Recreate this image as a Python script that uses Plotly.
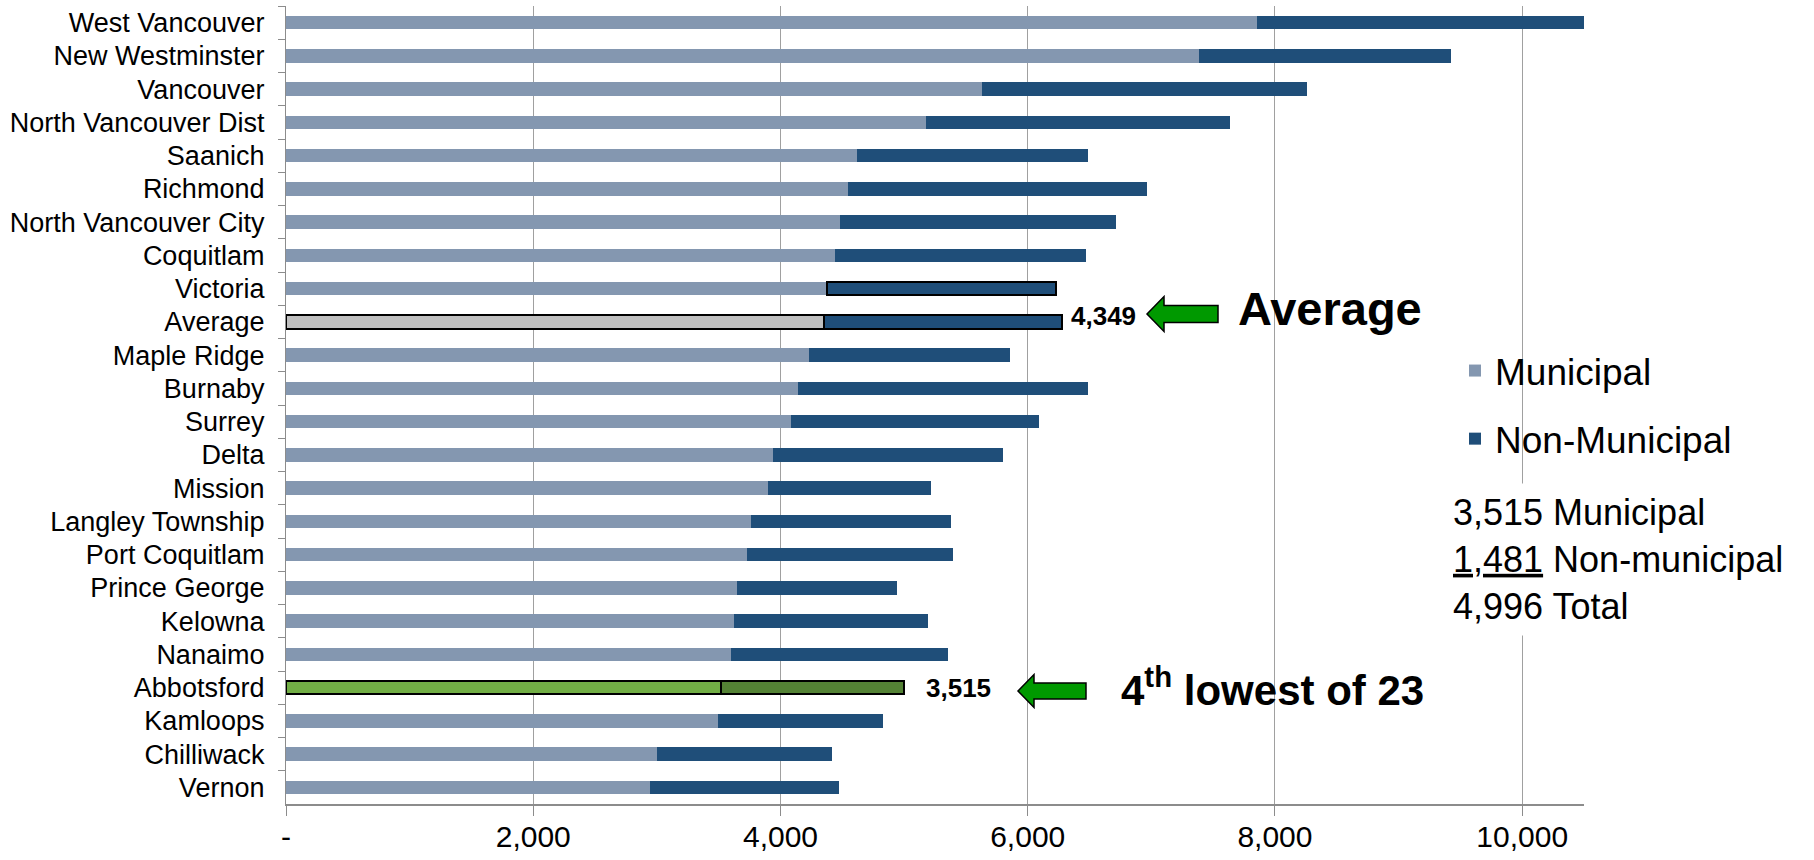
import plotly.graph_objects as go

# ---------------- data ----------------
cities = ["West Vancouver", "New Westminster", "Vancouver", "North Vancouver Dist",
          "Saanich", "Richmond", "North Vancouver City", "Coquitlam", "Victoria",
          "Average", "Maple Ridge", "Burnaby", "Surrey", "Delta", "Mission",
          "Langley Township", "Port Coquitlam", "Prince George", "Kelowna",
          "Nanaimo", "Abbotsford", "Kamloops", "Chilliwack", "Vernon"]
municipal = [7852, 7385, 5630, 5175, 4617, 4547, 4482, 4441, 4380, 4349, 4231,
             4145, 4086, 3940, 3900, 3762, 3730, 3649, 3625, 3601, 3515, 3496,
             3002, 2943]
non_municipal = [2658, 2036, 2630, 2464, 1873, 2415, 2235, 2031, 1849, 1931, 1628,
                 2345, 2005, 1856, 1315, 1618, 1666, 1297, 1566, 1757, 1481, 1334,
                 1413, 1534]
x_tick_vals = [0, 2000, 4000, 6000, 8000, 10000]
x_tick_text = ["-", "2,000", "4,000", "6,000", "8,000", "10,000"]
x_max = 10500

# ---------------- styles ----------------
FONT = "Liberation Sans, Arial, sans-serif"
C_MUNI = "#8497B0"
C_NON = "#1F4E79"
C_AVG_MUNI = "#BFBFBF"
C_ABB_MUNI = "#72AE45"
C_ABB_NON = "#548235"

W, H = 1814, 860
L, R, T, B = 286, 1584, 6, 804

def pxx(x):
    return (x - L) / (R - L)

def pxy(y):
    return (B - y) / (B - T)

muni_colors, non_colors, muni_lw, non_lw = [], [], [], []
for c in cities:
    mc, nc, ml, nl = C_MUNI, C_NON, 0, 0
    if c == "Victoria":
        nl = 2
    if c == "Average":
        mc, ml, nl = C_AVG_MUNI, 2, 2
    if c == "Abbotsford":
        mc, nc, ml, nl = C_ABB_MUNI, C_ABB_NON, 2, 2
    muni_colors.append(mc)
    non_colors.append(nc)
    muni_lw.append(ml)
    non_lw.append(nl)

fig = go.Figure()
fig.add_trace(go.Bar(
    y=cities, x=municipal, orientation="h", name="Municipal",
    legendgroup="a",
    marker=dict(color=muni_colors, line=dict(color="black", width=muni_lw)),
    hoverinfo="skip",
))
fig.add_trace(go.Bar(
    y=cities, x=non_municipal, orientation="h", name="Non-Municipal",
    legendgroup="b",
    marker=dict(color=non_colors, line=dict(color="black", width=non_lw)),
    hoverinfo="skip",
))

avg_i = cities.index("Average")
abb_i = cities.index("Abbotsford")

annotations = [
    dict(x=municipal[avg_i] + non_municipal[avg_i], y="Average", xref="x", yref="y",
         text=f"<b>{municipal[avg_i]:,}</b>", showarrow=False, xanchor="left",
         xshift=7, yshift=6, font=dict(size=26, color="black", family=FONT)),
    dict(x=municipal[abb_i] + non_municipal[abb_i], y="Abbotsford", xref="x", yref="y",
         text=f"<b>{municipal[abb_i]:,}</b>", showarrow=False, xanchor="left",
         xshift=20, yshift=0, font=dict(size=26, color="black", family=FONT)),
    dict(x=pxx(1236), y=pxy(308), xref="paper", yref="paper",
         text="<b>Average</b>", showarrow=False, xanchor="left", yanchor="middle",
         font=dict(size=47, color="black", family=FONT)),
    dict(x=pxx(1119), y=pxy(687), xref="paper", yref="paper",
         text="<b>4<sup>th</sup> lowest of 23</b>", showarrow=False, xanchor="left",
         yanchor="middle", font=dict(size=42, color="black", family=FONT)),
    dict(x=pxx(1444), y=pxy(559), xref="paper", yref="paper",
         text=(f"{municipal[abb_i]:,} Municipal<br>"
               f"<u>{non_municipal[abb_i]:,}</u> Non-municipal<br>"
               f"{municipal[abb_i] + non_municipal[abb_i]:,} Total"),
         showarrow=False, xanchor="left", yanchor="middle", align="left",
         bgcolor="white", borderpad=8,
         font=dict(size=36, color="black", family=FONT)),
]

def arrow_path(xt, xtail, yc, hh, sh, hl):
    pts = [(xt, yc), (xt + hl, yc - hh / 2), (xt + hl, yc - sh / 2),
           (xtail, yc - sh / 2), (xtail, yc + sh / 2), (xt + hl, yc + sh / 2),
           (xt + hl, yc + hh / 2)]
    s = "M " + " L ".join(f"{pxx(x):.5f},{pxy(y):.5f}" for x, y in pts) + " Z"
    return s

shapes = [
    dict(type="path", xref="paper", yref="paper",
         path=arrow_path(1147, 1218, 314, 35, 17, 17),
         fillcolor="#009900", line=dict(color="black", width=1.5), layer="above"),
    dict(type="path", xref="paper", yref="paper",
         path=arrow_path(1018, 1086, 691, 33, 16, 16),
         fillcolor="#009900", line=dict(color="black", width=1.5), layer="above"),
]

fig.update_layout(
    width=W, height=H,
    barmode="stack", bargap=0.6,
    plot_bgcolor="white", paper_bgcolor="white",
    margin=dict(l=L, r=W - R, t=T, b=H - B, pad=0, autoexpand=False),
    font=dict(family=FONT, color="black"),
    showlegend=True,
    legend=dict(x=pxx(1455), y=pxy(340), xanchor="left", yanchor="top",
                bgcolor="rgba(0,0,0,0)", font=dict(size=37, color="black", family=FONT),
                traceorder="grouped", tracegroupgap=17),
    annotations=annotations,
    shapes=shapes,
    xaxis=dict(range=[0, x_max], tickvals=x_tick_vals, ticktext=x_tick_text,
               automargin=False,
               showgrid=True, gridcolor="#A0A0A0", gridwidth=1.3, zeroline=False,
               showline=True, linecolor="#8C8C8C", linewidth=2,
               ticks="outside", ticklen=10, tickcolor="#8C8C8C", tickwidth=1,
               ticklabelstandoff=-5,
               tickfont=dict(size=30, color="black", family=FONT)),
    yaxis=dict(autorange="reversed", showgrid=False, zeroline=False,
               automargin=False,
               showline=True, linecolor="#8C8C8C", linewidth=1.3,
               ticks="outside", ticklen=7, tickcolor="#8C8C8C", tickson="boundaries",
               ticklabelstandoff=15,
               tickfont=dict(size=27, color="black", family=FONT)),
)

fig.write_html("out.html", config={"displayModeBar": False},
               post_script="document.body.style.margin='0';document.body.style.overflow='hidden';")
